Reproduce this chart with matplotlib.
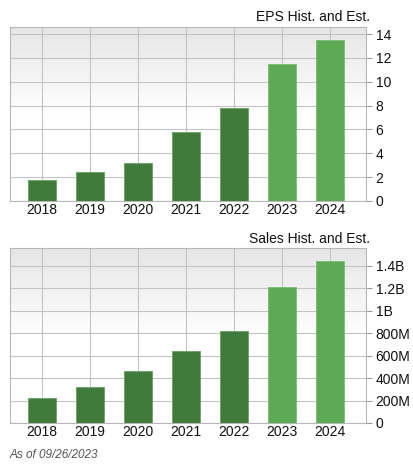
import matplotlib
matplotlib.use("Agg")
import matplotlib.pyplot as plt
import numpy as np
from matplotlib.ticker import FuncFormatter

years = ["2018", "2019", "2020", "2021", "2022", "2023", "2024"]
eps_values = [1.79, 2.43, 3.18, 5.75, 7.81, 11.46, 13.5]
sales_values = [223, 318, 464, 642, 820, 1212, 1441]  # millions
estimate_flags = [False, False, False, False, False, True, True]
eps_ticks = [0, 2, 4, 6, 8, 10, 12, 14]
sales_ticks = [0, 200, 400, 600, 800, 1000, 1200, 1400]

DARK = "#3f7b3a"
LIGHT = "#5cab54"
GRID = "#c4c4c4"
FONT = "Liberation Sans"

plt.rcParams['font.family'] = [FONT, 'DejaVu Sans']

W, H = 414, 471
fig = plt.figure(figsize=(W / 100, H / 100), dpi=100)


def fmt_sales(v, pos):
    if v == 0:
        return "0"
    if v >= 1000:
        s = f"{v/1000:.1f}".rstrip("0").rstrip(".")
        return s + "B"
    return f"{int(v)}M"


def make_panel(rect, values, ticks, ymax, title, formatter=None):
    ax = fig.add_axes(rect)
    x = np.arange(len(years))
    colors = [LIGHT if e else DARK for e in estimate_flags]
    # gradient background
    grad = np.linspace(0, 1, 256).reshape(-1, 1)
    vals = np.clip(grad * 2.0, 0, 1)  # 0 at top -> 1 at mid
    top_c = np.array([0.90, 0.90, 0.90])
    bot_c = np.array([1.0, 1.0, 1.0])
    img = top_c[None, None, :] * (1 - vals[:, :, None]) + bot_c[None, None, :] * vals[:, :, None]
    ax.imshow(img, extent=[0, 1, 0, 1], transform=ax.transAxes, aspect='auto', zorder=0, origin='upper')
    ax.bar(x, values, width=0.57, color=colors,
           edgecolor=["#6aa064" if not e else "#79bd71" for e in estimate_flags],
           linewidth=0.6, zorder=3)
    ax.set_xlim(-0.67, 6.75)
    ax.set_ylim(0, ymax)
    ax.set_yticks(ticks)
    ax.set_xticks(x)
    ax.set_xticklabels(years)
    ax.grid(True, color=GRID, linewidth=0.8, zorder=1)
    ax.set_axisbelow(True)
    ax.yaxis.tick_right()
    ax.tick_params(axis='y', which='both', length=4, color="#a0a0a0", labelsize=10, pad=3, labelcolor="#111111")
    ax.tick_params(axis='x', length=0, labelsize=10, pad=1.5, labelcolor="#111111")
    if formatter is not None:
        ax.yaxis.set_major_formatter(FuncFormatter(formatter))
    for s in ax.spines.values():
        s.set_color("#b8b8b8")
        s.set_linewidth(0.8)
    ax.set_title(title, loc='right', fontsize=10, pad=4, color="#111111", x=1.012)
    return ax


ax1 = make_panel([10 / W, 1 - 201 / H, 356 / W, 174 / H], eps_values, eps_ticks, 14.6,
                 "EPS Hist. and Est.")
ax2 = make_panel([10 / W, 1 - 423 / H, 356 / W, 174.7 / H], sales_values, sales_ticks, 1557,
                 "Sales Hist. and Est.", fmt_sales)

fig.text(10 / W, 1 - 455 / H, "As of 09/26/2023", fontsize=8.5, style='italic', color="#555555",
         va='center', ha='left')

fig.savefig("out.png", dpi=100)
